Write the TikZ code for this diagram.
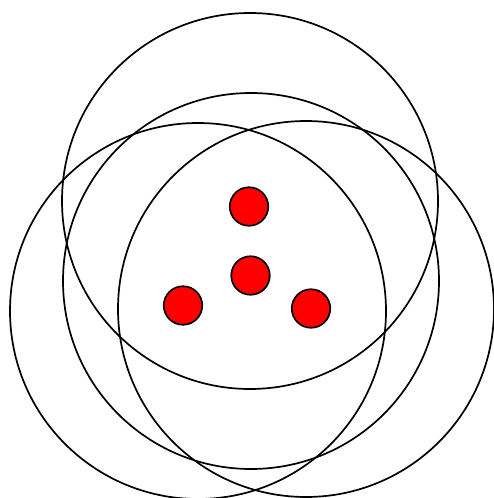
\documentclass[tikz,border=0pt]{standalone}
\begin{document}
\begin{tikzpicture}[x=1pt,y=-1pt,
  ring/.style={circle,draw=black,line width=1.7pt,inner sep=0pt,minimum size=376pt},
  dot/.style={circle,draw=black,fill=red,line width=1.7pt,inner sep=0pt,minimum size=38.5pt}]
\useasboundingbox (0,0) rectangle (494,498);
\node[ring] (top) at (250,201) {};
\node[ring] (mid) at (251,281) {};
\node[ring] (left) at (198,311) {};
\node[ring] (right) at (306,309) {};
\node[dot] (d1) at (249,206.5) {};
\node[dot] (d2) at (250.5,275.5) {};
\node[dot] (d3) at (183,305.5) {};
\node[dot] (d4) at (311,308.5) {};
\end{tikzpicture}
\end{document}
